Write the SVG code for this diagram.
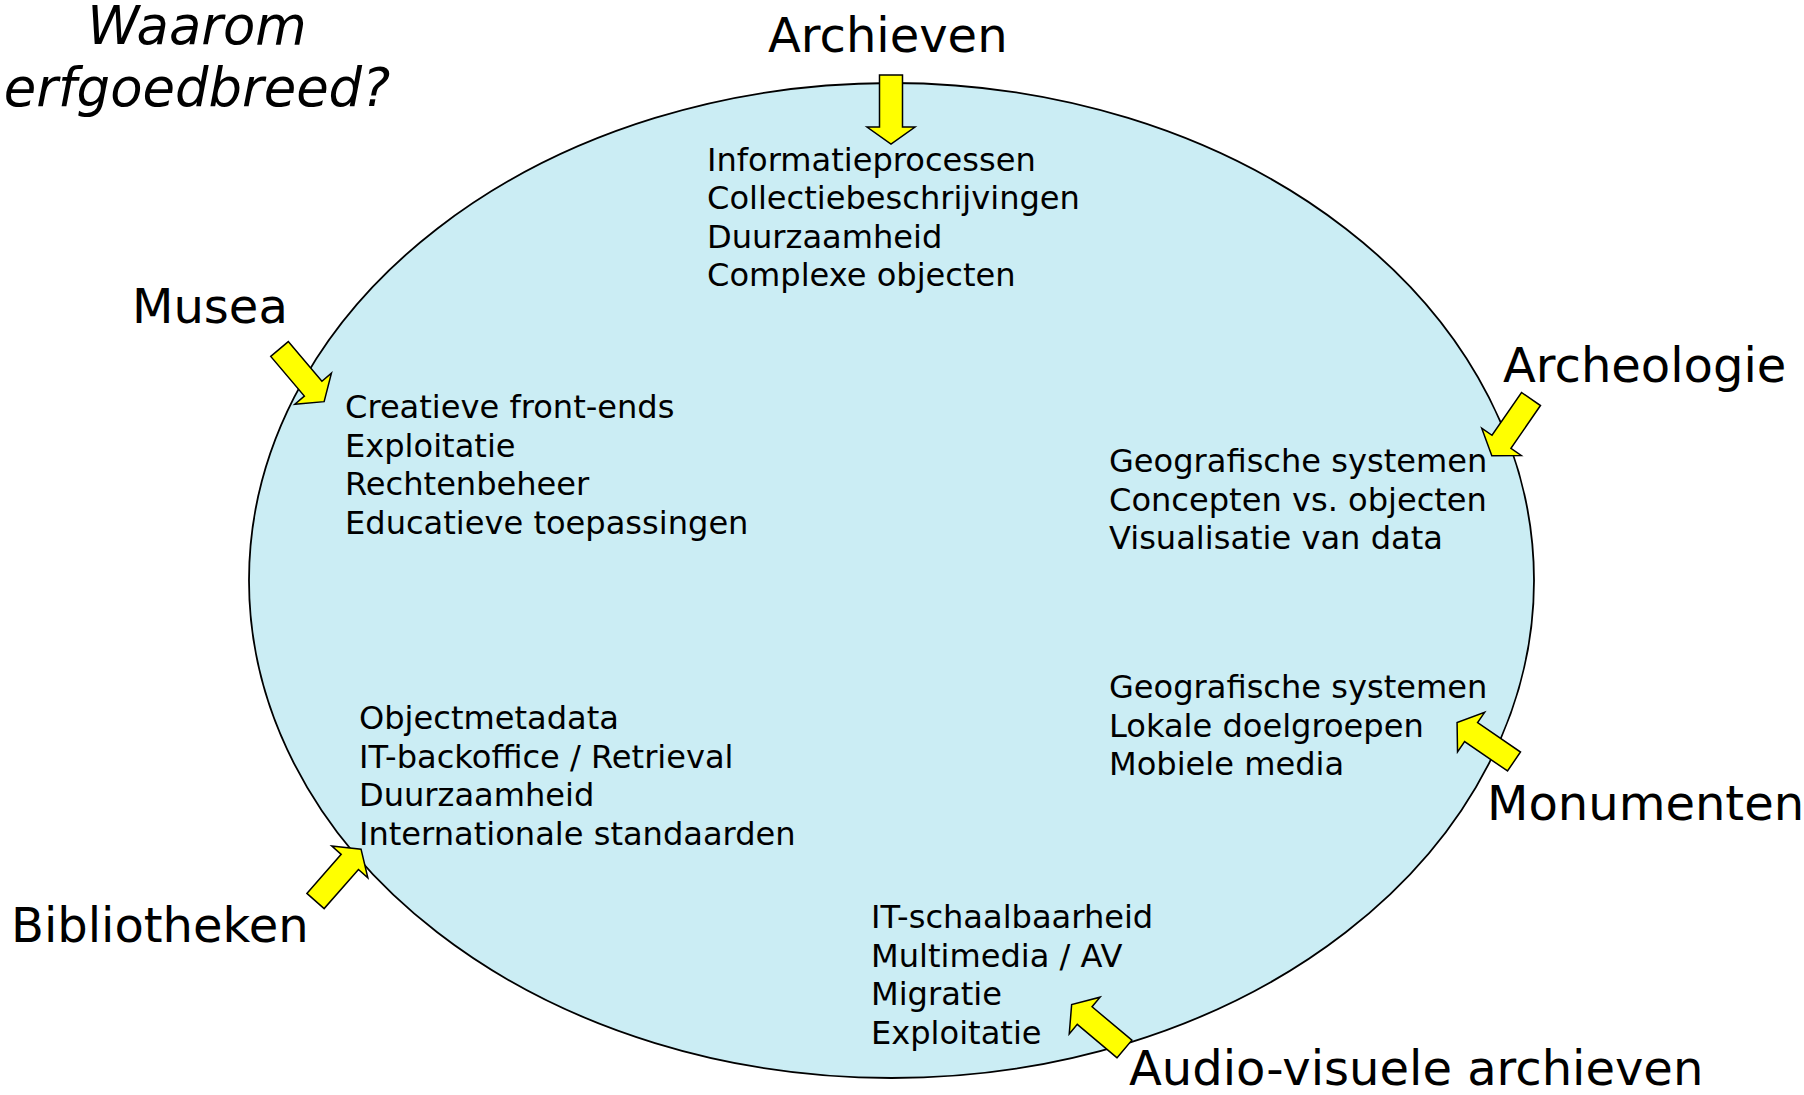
<svg xmlns="http://www.w3.org/2000/svg" width="1804" height="1095" viewBox="0 0 1804 1095">
<style>
.lbl{font-family:"DejaVu Sans","Liberation Sans",sans-serif;font-size:48px;fill:#000}
.itm{font-family:"DejaVu Sans","Liberation Sans",sans-serif;font-size:32.1px;fill:#000}
.ttl{font-family:"DejaVu Sans","Liberation Sans",sans-serif;font-size:52.8px;font-style:italic;fill:#000}
.arr{fill:#FFFF00;stroke:#000;stroke-width:1.5;stroke-linejoin:miter}
</style>
<defs>
<polygon id="blockArrow" points="0,-11.5 52,-11.5 52,-24 69,0 52,24 52,11.5 0,11.5"/>
</defs>
<rect width="1804" height="1095" fill="#fff"/>
<g id="circle">
<ellipse cx="891.5" cy="580.5" rx="642.5" ry="497.5" fill="#CBEDF4" stroke="#000" stroke-width="1.8"/>
</g>
<g id="title">
<text class="ttl" text-anchor="middle"><tspan x="197" y="44">Waarom</tspan><tspan x="197" y="106">erfgoedbreed?</tspan></text>
</g>
<g id="archieven">
<text class="lbl" x="768" y="52">Archieven</text>
<text class="itm"><tspan x="707" y="170.5">Informatieprocessen</tspan><tspan x="707" y="209">Collectiebeschrijvingen</tspan><tspan x="707" y="247.5">Duurzaamheid</tspan><tspan x="707" y="286">Complexe objecten</tspan></text>
</g>
<g id="musea">
<text class="lbl" x="132" y="323">Musea</text>
<text class="itm"><tspan x="345" y="418">Creatieve front-ends</tspan><tspan x="345" y="456.5">Exploitatie</tspan><tspan x="345" y="495">Rechtenbeheer</tspan><tspan x="345" y="533.5">Educatieve toepassingen</tspan></text>
</g>
<g id="archeologie">
<text class="lbl" x="1503" y="382">Archeologie</text>
<text class="itm"><tspan x="1109" y="472">Geografische systemen</tspan><tspan x="1109" y="510.5">Concepten vs. objecten</tspan><tspan x="1109" y="549">Visualisatie van data</tspan></text>
</g>
<g id="monumenten">
<text class="lbl" x="1487" y="820">Monumenten</text>
<text class="itm"><tspan x="1109" y="698">Geografische systemen</tspan><tspan x="1109" y="736.5">Lokale doelgroepen</tspan><tspan x="1109" y="775">Mobiele media</tspan></text>
</g>
<g id="bibliotheken">
<text class="lbl" x="11" y="942">Bibliotheken</text>
<text class="itm"><tspan x="359" y="729">Objectmetadata</tspan><tspan x="359" y="767.5">IT-backoffice / Retrieval</tspan><tspan x="359" y="806">Duurzaamheid</tspan><tspan x="359" y="844.5">Internationale standaarden</tspan></text>
</g>
<g id="audiovisueel">
<text class="lbl" x="1129" y="1085">Audio-visuele archieven</text>
<text class="itm"><tspan x="871" y="928">IT-schaalbaarheid</tspan><tspan x="871" y="966.5">Multimedia / AV</tspan><tspan x="871" y="1005">Migratie</tspan><tspan x="871" y="1043.5">Exploitatie</tspan></text>
</g>
<g id="connectors">
<use href="#blockArrow" class="arr" transform="translate(891,75) rotate(90)"/>
<use href="#blockArrow" class="arr" transform="translate(279.5,349) rotate(49.7)"/>
<use href="#blockArrow" class="arr" transform="translate(1531,399) rotate(124.6)"/>
<use href="#blockArrow" class="arr" transform="translate(1514,761.5) rotate(214.4)"/>
<use href="#blockArrow" class="arr" transform="translate(315.5,901) rotate(-48.7)"/>
<use href="#blockArrow" class="arr" transform="translate(1124.5,1049) rotate(220)"/>
</g>
</svg>
